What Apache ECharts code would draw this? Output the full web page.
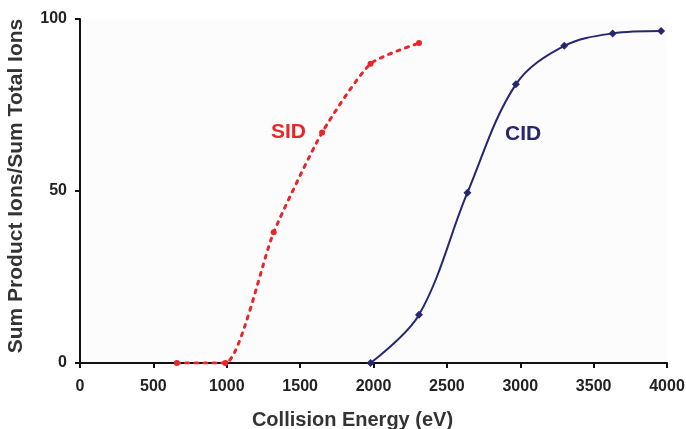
<!DOCTYPE html>
<html>
<head>
<meta charset="utf-8">
<script src="https://cdn.jsdelivr.net/npm/echarts@6/dist/echarts.min.js"></script>
<style>
  html, body { margin: 0; padding: 0; background: #fff; }
  #chart { width: 686px; height: 429px; }
</style>
</head>
<body>
<div id="chart"></div>
<script>
// values
var sidEnergy = [660, 990, 1320, 1650, 1980, 2310];
var sidValues = [0, 0, 38, 67, 87, 93];
var cidEnergy = [1980, 2310, 2640, 2970, 3300, 3630, 3960];
var cidValues = [0, 14, 49.5, 81, 92.2, 95.8, 96.5];
var xTicks = [0, 500, 1000, 1500, 2000, 2500, 3000, 3500, 4000];
var yTicks = [0, 50, 100];

var RED = '#e8262a';
var NAVY = '#262671';
var FONT = '"Liberation Sans", Arial, sans-serif';

function pairs(xs, ys) {
    return xs.map(function (x, i) { return [x, ys[i]]; });
}

var chart = echarts.init(document.getElementById('chart'));

var axisCommon = {
    axisLine: { show: true, lineStyle: { color: '#111', width: 2 } },
    axisTick: { show: true, length: 5, lineStyle: { color: '#111', width: 2 } },
    splitLine: { show: false },
    axisLabel: {
        color: '#222', fontFamily: FONT, fontWeight: 'bold', fontSize: 16,
        formatter: function (v) { return String(v); }
    },
    nameTextStyle: { color: '#333', fontFamily: FONT, fontWeight: 'bold', fontSize: 20 }
};

var option = {
    animation: false,
    backgroundColor: '#fff',
    grid: {
        left: 80, right: 19, top: 19, bottom: 66,
        outerBoundsMode: 'none', containLabel: false,
        show: true, backgroundColor: '#fcfcfc', borderWidth: 0
    },
    xAxis: Object.assign({}, axisCommon, {
        type: 'value',
        min: xTicks[0],
        max: xTicks[xTicks.length - 1],
        interval: xTicks[1] - xTicks[0],
        name: 'Collision Energy (eV)',
        nameLocation: 'middle',
        nameGap: 47,
        nameTextStyle: Object.assign({}, axisCommon.nameTextStyle, { padding: [0, 42, 0, 0] }),
        axisLabel: Object.assign({}, axisCommon.axisLabel, { margin: 16 })
    }),
    yAxis: Object.assign({}, axisCommon, {
        type: 'value',
        min: yTicks[0],
        max: yTicks[yTicks.length - 1],
        interval: yTicks[1] - yTicks[0],
        name: 'Sum Product Ions/Sum Total Ions',
        nameLocation: 'middle',
        nameGap: 53,
        nameTextStyle: Object.assign({}, axisCommon.nameTextStyle, { fontSize: 21, padding: [0, 0, 0, 10] }),
        axisLabel: Object.assign({}, axisCommon.axisLabel, { margin: 13 })
    }),
    series: [
        {
            name: 'SID',
            type: 'line',
            smooth: 0.2,
            data: pairs(sidEnergy, sidValues),
            symbol: 'circle',
            symbolSize: 6,
            itemStyle: { color: RED },
            lineStyle: { color: RED, width: 3, type: [3, 6], cap: 'round' },
            markPoint: {
                symbol: 'circle',
                symbolSize: 0,
                data: [{ coord: [1420, 67] }],
                label: {
                    show: true, position: 'inside', formatter: 'SID',
                    color: RED, fontFamily: FONT, fontWeight: 'bold', fontSize: 21
                }
            }
        },
        {
            name: 'CID',
            type: 'line',
            smooth: 0.35,
            data: pairs(cidEnergy, cidValues),
            symbol: 'diamond',
            symbolSize: 8,
            itemStyle: { color: NAVY },
            lineStyle: { color: NAVY, width: 2 },
            markPoint: {
                symbol: 'circle',
                symbolSize: 0,
                data: [{ coord: [3020, 66.5] }],
                label: {
                    show: true, position: 'inside', formatter: 'CID',
                    color: NAVY, fontFamily: FONT, fontWeight: 'bold', fontSize: 21
                }
            }
        }
    ]
};

chart.setOption(option);
</script>
</body>
</html>
